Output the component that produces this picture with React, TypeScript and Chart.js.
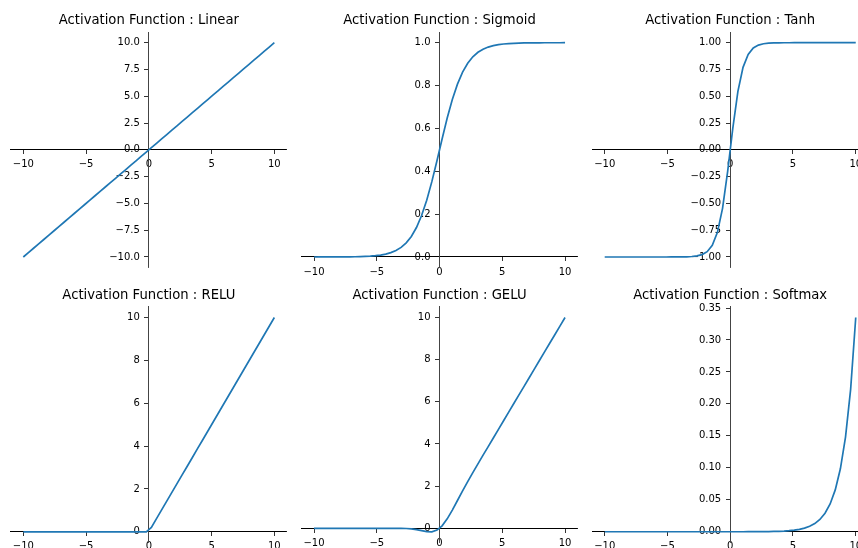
import React, { useEffect, useRef } from 'react';
import { Chart, registerables } from 'chart.js';

Chart.register(...registerables);

// ---------- data ----------
const xValues = [-10, -9.592, -9.184, -8.776, -8.367, -7.959, -7.551, -7.143, -6.735, -6.327, -5.918, -5.51, -5.102, -4.694, -4.286, -3.878, -3.469, -3.061, -2.653, -2.245, -1.837, -1.429, -1.02, -0.612, -0.204, 0.204, 0.612, 1.02, 1.429, 1.837, 2.245, 2.653, 3.061, 3.469, 3.878, 4.286, 4.694, 5.102, 5.51, 5.918, 6.327, 6.735, 7.143, 7.551, 7.959, 8.367, 8.776, 9.184, 9.592, 10];

const linearValues = [-10, -9.592, -9.184, -8.776, -8.367, -7.959, -7.551, -7.143, -6.735, -6.327, -5.918, -5.51, -5.102, -4.694, -4.286, -3.878, -3.469, -3.061, -2.653, -2.245, -1.837, -1.429, -1.02, -0.612, -0.204, 0.204, 0.612, 1.02, 1.429, 1.837, 2.245, 2.653, 3.061, 3.469, 3.878, 4.286, 4.694, 5.102, 5.51, 5.918, 6.327, 6.735, 7.143, 7.551, 7.959, 8.367, 8.776, 9.184, 9.592, 10];

const sigmoidValues = [0.0, 0.0001, 0.0001, 0.0002, 0.0002, 0.0003, 0.0005, 0.0008, 0.0012, 0.0018, 0.0027, 0.004, 0.006, 0.0091, 0.0136, 0.0203, 0.0302, 0.0447, 0.0658, 0.0958, 0.1374, 0.1933, 0.265, 0.3516, 0.4492, 0.5508, 0.6484, 0.735, 0.8067, 0.8626, 0.9042, 0.9342, 0.9553, 0.9698, 0.9797, 0.9864, 0.9909, 0.994, 0.996, 0.9973, 0.9982, 0.9988, 0.9992, 0.9995, 0.9997, 0.9998, 0.9998, 0.9999, 0.9999, 1.0];

const tanhValues = [-1, -1, -1, -1, -1, -1, -1, -1, -1, -1, -1, -1, -0.9999, -0.9998, -0.9996, -0.9991, -0.9981, -0.9956, -0.9901, -0.9778, -0.9505, -0.8914, -0.77, -0.5457, -0.2013, 0.2013, 0.5457, 0.77, 0.8914, 0.9505, 0.9778, 0.9901, 0.9956, 0.9981, 0.9991, 0.9996, 0.9998, 0.9999, 1, 1, 1, 1, 1, 1, 1, 1, 1, 1, 1, 1];

const reluValues = [0, 0, 0, 0, 0, 0, 0, 0, 0, 0, 0, 0, 0, 0, 0, 0, 0, 0, 0, 0, 0, 0, 0, 0, 0, 0.204, 0.612, 1.02, 1.429, 1.837, 2.245, 2.653, 3.061, 3.469, 3.878, 4.286, 4.694, 5.102, 5.51, 5.918, 6.327, 6.735, 7.143, 7.551, 7.959, 8.367, 8.776, 9.184, 9.592, 10];

const geluValues = [0, 0, 0, 0, 0, 0, 0, 0, 0, 0, 0, 0, 0, 0, 0, -0.0002, -0.0009, -0.0034, -0.0106, -0.0278, -0.0609, -0.1094, -0.1569, -0.1654, -0.0855, 0.1185, 0.4468, 0.8635, 1.3192, 1.7759, 2.2171, 2.6425, 3.0579, 3.4685, 3.8773, 4.2857, 4.694, 5.102, 5.51, 5.918, 6.327, 6.735, 7.143, 7.551, 7.959, 8.367, 8.776, 9.184, 9.592, 10];

const softmaxValues = [0, 0, 0, 0, 0, 0, 0, 0, 0, 0, 0, 0, 0, 0, 0, 0, 0, 0, 0, 0, 0, 0, 0, 0, 0, 0.00002, 0.00003, 0.00004, 0.00006, 0.0001, 0.00014, 0.00022, 0.00032, 0.00049, 0.00074, 0.00111, 0.00166, 0.0025, 0.00376, 0.00566, 0.00851, 0.0128, 0.01925, 0.02895, 0.04354, 0.06549, 0.0985, 0.14815, 0.22282, 0.33512];

const xTicks = [-10, -5, 0, 5, 10];
const linearTicks = [-10, -7.5, -5, -2.5, 0, 2.5, 5, 7.5, 10];
const sigmoidTicks = [0, 0.2, 0.4, 0.6, 0.8, 1.0];
const tanhTicks = [-1, -0.75, -0.5, -0.25, 0, 0.25, 0.5, 0.75, 1];
const reluTicks = [0, 2, 4, 6, 8, 10];
const geluTicks = [0, 2, 4, 6, 8, 10];
const softmaxTicks = [0, 0.05, 0.1, 0.15, 0.2, 0.25, 0.3, 0.35];

const titles = [
  'Activation Function : Linear',
  'Activation Function : Sigmoid',
  'Activation Function : Tanh',
  'Activation Function : RELU',
  'Activation Function : GELU',
  'Activation Function : Softmax',
];

type Panel = {
  title: string;
  values: number[];
  yTicks: number[];
  decimals: number;
  yMin: number;
  yMax: number;
};

const panels: Panel[] = [
  { title: titles[0], values: linearValues, yTicks: linearTicks, decimals: 1, yMin: -11, yMax: 11 },
  { title: titles[1], values: sigmoidValues, yTicks: sigmoidTicks, decimals: 1, yMin: -0.05, yMax: 1.05 },
  { title: titles[2], values: tanhValues, yTicks: tanhTicks, decimals: 2, yMin: -1.1, yMax: 1.1 },
  { title: titles[3], values: reluValues, yTicks: reluTicks, decimals: 0, yMin: -0.5, yMax: 10.5 },
  { title: titles[4], values: geluValues, yTicks: geluTicks, decimals: 0, yMin: -0.674, yMax: 10.508 },
  { title: titles[5], values: softmaxValues, yTicks: softmaxTicks, decimals: 2, yMin: -0.0168, yMax: 0.3519 },
];

// ---------- layout ----------
const AREA_LEFT0 = 10.75;
const COL_STEP = 290.7;
const AREA_W = 276.15;
const AREA_TOP = [32, 306.8];
const AREA_H = 235.7;
const PAD_L = 20;
const PAD_R = 20;
const PAD_B = 20;
const PAD_T = 4;
const TITLE_SIZE = 13.2;
const TITLE_PAD_B = 3.8;
const TITLE_BLOCK = PAD_T + TITLE_SIZE * 1.2 + TITLE_PAD_B;
const Y_LABEL_SHIFT = 9;
const X_LABEL_SHIFT = 3;

const FONT = "'DejaVu Sans', sans-serif";

const fmt = (v: number, d: number) => {
  const s = d > 0 ? v.toFixed(d) : String(Math.round(v));
  return s.replace('-', '\u2212');
};

// Shift tick labels of the zero-positioned axes away from the spines (like matplotlib's tick + pad)
const labelOffsetPlugin = {
  id: 'labelOffset',
  beforeDraw(chart: any) {
    const xs = chart.scales.x;
    const ys = chart.scales.y;
    if (ys) {
      const items = ys.getLabelItems(chart.chartArea);
      if (!(items as any).__shifted) {
        items.forEach((it: any) => {
          it.options.translation[0] -= Y_LABEL_SHIFT;
        });
        (items as any).__shifted = true;
      }
    }
    if (xs) {
      const items = xs.getLabelItems(chart.chartArea);
      if (!(items as any).__shifted) {
        items.forEach((it: any) => {
          it.options.translation[1] += X_LABEL_SHIFT;
        });
        (items as any).__shifted = true;
      }
    }
  },
};

function PanelChart({ panel, row, col }: { panel: Panel; row: number; col: number }) {
  const ref = useRef<HTMLCanvasElement>(null);
  const areaLeft = AREA_LEFT0 + COL_STEP * col;
  const areaTop = AREA_TOP[row];
  const left = Math.round(areaLeft - PAD_L);
  const top = Math.round(areaTop - TITLE_BLOCK);
  const padL = areaLeft - left;
  const padT = PAD_T + (areaTop - TITLE_BLOCK - top);
  const width = Math.round(padL + AREA_W + PAD_R);
  const padR = width - padL - AREA_W;
  const height = Math.round(padT - PAD_T + TITLE_BLOCK + AREA_H + PAD_B);
  const padB = height - (padT - PAD_T + TITLE_BLOCK) - AREA_H;

  useEffect(() => {
    if (!ref.current) return;
    const tickFont = { family: FONT, size: 10 };
    const chart = new Chart(ref.current, {
      type: 'line',
      data: {
        datasets: [
          {
            data: xValues.map((x, i) => ({ x, y: panel.values[i] })),
            borderColor: '#1f77b4',
            borderWidth: 1.7,
            pointRadius: 0,
            tension: 0,
            fill: false,
          },
        ],
      },
      plugins: [labelOffsetPlugin],
      options: {
        animation: false,
        responsive: false,
        maintainAspectRatio: false,
        devicePixelRatio: 1,
        events: [],
        layout: { padding: { left: padL, right: padR, top: padT, bottom: padB } },
        plugins: {
          legend: { display: false },
          tooltip: { enabled: false },
          title: {
            display: true,
            text: panel.title,
            color: '#000',
            font: { family: FONT, size: TITLE_SIZE, weight: 'normal' },
            padding: { top: 0, bottom: TITLE_PAD_B },
          },
        },
        scales: {
          x: {
            type: 'linear',
            min: -11,
            max: 11,
            position: { y: 0 } as any,
            afterBuildTicks: (scale: any) => {
              scale.ticks = xTicks.map((v) => ({ value: v }));
            },
            grid: { display: true, drawOnChartArea: false, drawTicks: true, tickLength: 4, color: '#000', lineWidth: 0.8 },
            border: { display: true, color: '#000', width: 1 },
            ticks: {
              autoSkip: false,
              maxRotation: 0,
              padding: 2,
              color: '#000',
              font: tickFont,
              callback: (v: any) => fmt(Number(v), 0),
            },
          },
          y: {
            type: 'linear',
            min: panel.yMin,
            max: panel.yMax,
            position: { x: 0 } as any,
            afterBuildTicks: (scale: any) => {
              scale.ticks = panel.yTicks.map((v) => ({ value: v }));
            },
            grid: { display: true, drawOnChartArea: false, drawTicks: true, tickLength: 4, color: '#000', lineWidth: 0.8 },
            border: { display: true, color: '#444', width: 1 },
            ticks: {
              autoSkip: false,
              padding: 5,
              color: '#000',
              font: tickFont,
              callback: (v: any) => fmt(Number(v), panel.decimals),
            },
          },
        },
      },
    } as any);
    return () => chart.destroy();
  }, [panel, padL, padR, padT, padB]);

  return (
    <canvas
      ref={ref}
      width={width}
      height={height}
      style={{ position: 'absolute', left, top, width, height }}
    />
  );
}

export default function App() {
  return (
    <div
      style={{
        position: 'absolute',
        left: 0,
        top: 0,
        width: 858,
        height: 548,
        overflow: 'hidden',
        background: '#fff',
      }}
    >
      {panels.map((p, i) => (
        <PanelChart key={i} panel={p} row={Math.floor(i / 3)} col={i % 3} />
      ))}
    </div>
  );
}
